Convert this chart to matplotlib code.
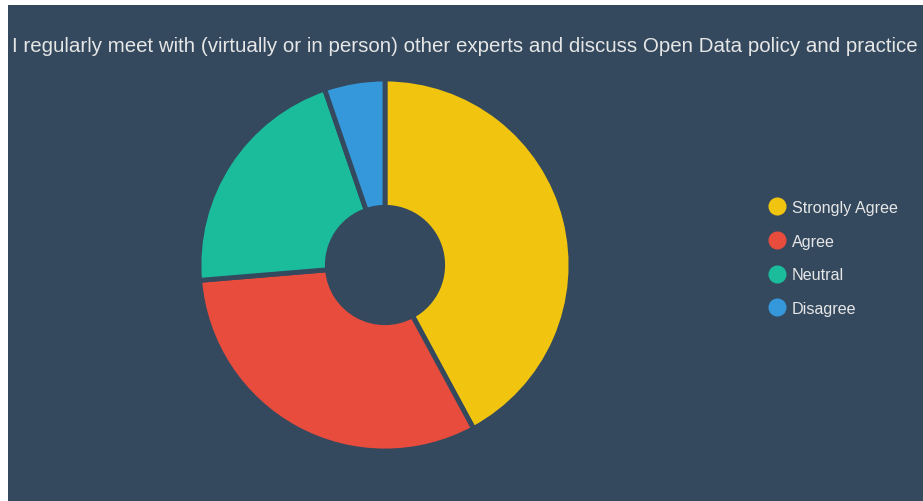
import matplotlib.pyplot as plt
from matplotlib.lines import Line2D

plt.rcParams['font.family'] = ['Liberation Sans', 'DejaVu Sans']

title = "I regularly meet with (virtually or in person) other experts and discuss Open Data policy and practice"
labels = ["Strongly Agree", "Agree", "Neutral", "Disagree"]
values = [8, 6, 4, 1]
colors = ["#f1c40f", "#e74c3c", "#1abc9c", "#3498db"]

bg = "#34495e"
txt = "#e6e6e6"

W, H = 923, 502
fig = plt.figure(figsize=(W / 100, H / 100), dpi=100, facecolor="white")

# dark panel (small white margin top and left like the original)
bg_ax = fig.add_axes([8 / W, 0, 1 - 8 / W, 1 - 6 / H], zorder=-1)
bg_ax.set_facecolor(bg)
bg_ax.set_xticks([])
bg_ax.set_yticks([])
for s in bg_ax.spines.values():
    s.set_visible(False)

cx, cy, r = 385, 266, 186
ax = fig.add_axes([(cx - r) / W, (H - cy - r) / H, 2 * r / W, 2 * r / H])
ax.set_facecolor("none")
ax.pie(values, colors=colors, startangle=90, counterclock=False,
       wedgeprops=dict(width=0.69, edgecolor=bg, linewidth=3.5))
ax.set_xlim(-1, 1)
ax.set_ylim(-1, 1)
ax.set_aspect("equal")
ax.axis("off")

fig.text(465 / W, 1 - 47 / H, title, ha="center", va="center",
         fontsize=14.8, color=txt)

handles = [Line2D([], [], marker="o", linestyle="none", markersize=12,
                  markerfacecolor=c, markeredgecolor=c) for c in colors]
leg = fig.legend(handles, labels, loc="upper left",
                 bbox_to_anchor=(761 / W, 1 - 193 / H), frameon=False,
                 fontsize=11.6, labelcolor=txt, labelspacing=1.16,
                 handlelength=1.0, handletextpad=0.4, borderpad=0)

fig.savefig("out.png", dpi=100, facecolor="white")
